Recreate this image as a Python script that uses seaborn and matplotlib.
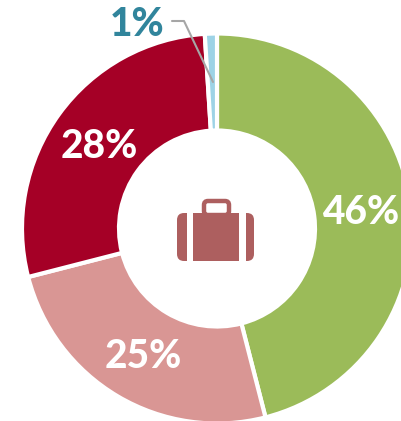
import matplotlib
matplotlib.use('Agg')
import matplotlib.pyplot as plt
from matplotlib.patches import FancyBboxPatch, Rectangle
import seaborn as sns

labels = ['46%', '25%', '28%', '1%']
values = [46, 25, 28, 1]
colors = ['#9BBB59', '#D99694', '#A50026', '#9DD3E6']

sns.set_theme(style='white')
plt.rcParams['font.family'] = ['Lato', 'DejaVu Sans']

W, H = 402, 421
fig = plt.figure(figsize=(W / 100, H / 100), dpi=100)
ax = fig.add_axes([0, 0, 1, 1])

cx, cy = 217, H - 228.5
ax.pie(values, colors=sns.color_palette(colors), startangle=90, counterclock=False,
       center=(cx, cy), radius=195, frame=True,
       wedgeprops=dict(width=97, edgecolor='white', linewidth=3))
ax.set_xlim(0, W)
ax.set_ylim(0, H)
ax.set_aspect('equal')
ax.axis('off')

# labels
white = dict(color='white', fontsize=28, fontweight=900, ha='center', va='center')
ax.text(361, H - 213, labels[0], **white)
ax.text(143, H - 357, labels[1], **white)
ax.text(99, H - 146, labels[2], **white)
ax.text(137, H - 24, labels[3], color='#31859C', fontsize=28, fontweight=900,
        ha='center', va='center')

# leader line
ax.plot([172, 184, 213], [H - 21, H - 21, H - 82], color='#A6A6A6', lw=1.5)

# suitcase icon
icon = '#AD5F5F'
ax.add_patch(FancyBboxPatch((204, H - 215), 25, 14, boxstyle='round,pad=0,rounding_size=4',
                            fc='none', ec=icon, lw=3.2))
ax.add_patch(Rectangle((193, H - 261), 46, 48, fc=icon, ec='none', zorder=3))
ax.add_patch(FancyBboxPatch((177, H - 261), 18, 48, boxstyle='round,pad=0,rounding_size=7',
                            fc=icon, ec='none', zorder=2))
ax.add_patch(FancyBboxPatch((236, H - 261), 18, 48, boxstyle='round,pad=0,rounding_size=7',
                            fc=icon, ec='none', zorder=2))
ax.add_patch(Rectangle((187, H - 262), 6, 50, fc='white', ec='none', zorder=4))
ax.add_patch(Rectangle((239, H - 262), 7, 50, fc='white', ec='none', zorder=4))

fig.savefig('out.png', dpi=100)
